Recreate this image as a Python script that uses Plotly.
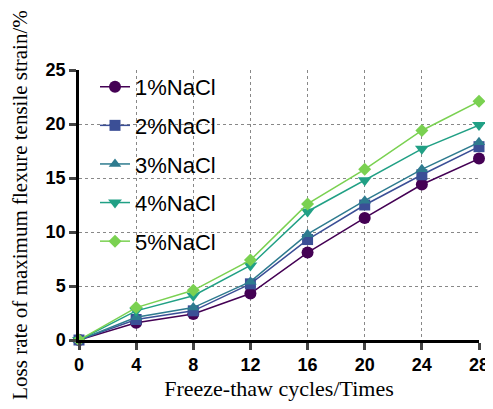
import plotly.graph_objects as go

cycles = [0, 4, 8, 12, 16, 20, 24, 28]
nacl1 = [0, 1.6, 2.4, 4.3, 8.1, 11.3, 14.4, 16.8]
nacl2 = [0, 1.9, 2.7, 5.2, 9.3, 12.5, 15.3, 17.9]
nacl3 = [0, 2.1, 3.0, 5.4, 9.8, 12.9, 15.8, 18.3]
nacl4 = [0, 2.7, 4.1, 6.9, 11.9, 14.8, 17.7, 19.9]
nacl5 = [0, 3.0, 4.6, 7.4, 12.6, 15.8, 19.4, 22.1]
names = ["1%NaCl", "2%NaCl", "3%NaCl", "4%NaCl", "5%NaCl"]
series = [nacl1, nacl2, nacl3, nacl4, nacl5]
colors = ["#440154", "#3b4f96", "#2e7b8f", "#21a085", "#7ad151"]
symbols = ["circle", "square", "triangle-up", "triangle-down", "diamond"]
sizes = [12, 11, 11, 12, 10]

fig = go.Figure()
for i, (n, s) in enumerate(zip(names, series)):
    fig.add_trace(go.Scatter(
        x=cycles, y=s, name=n, mode="lines+markers",
        line=dict(color=colors[i], width=1.5),
        marker=dict(symbol=symbols[i], size=sizes[i], color=colors[i]),
        cliponaxis=False, legendgroup=n,
    ))

# page body has an 8px margin, so the figure is sized/offset to compensate
fig.update_layout(
    width=485, height=393,
    margin=dict(l=71, r=14, t=62, b=61),
    paper_bgcolor="white", plot_bgcolor="white",
    showlegend=True,
    legend=dict(x=0.04, y=1.015, xanchor="left", yanchor="top",
                font=dict(family="Liberation Sans, Arial", size=22, color="black"),
                bgcolor="rgba(0,0,0,0)", tracegroupgap=7),
    font=dict(family="Liberation Sans, Arial", color="black"),
)
fig.update_xaxes(
    range=[0, 28], tickvals=cycles, ticks="outside", ticklen=7, tickwidth=2.5,
    showline=True, linecolor="black", linewidth=2.5,
    showgrid=True, gridcolor="#888", griddash="dot", gridwidth=1,
    tickfont=dict(family="Liberation Sans, Arial", size=18, weight="bold"),
    ticklabeloverflow="allow",
    title=dict(text="Freeze-thaw cycles/Times",
               font=dict(family="Liberation Serif, Times New Roman", size=22), standoff=11),
    zeroline=False, automargin=False,
)
fig.update_yaxes(
    range=[0, 25], tickvals=[0, 5, 10, 15, 20, 25], ticks="outside", ticklen=7, tickwidth=2.5,
    showline=True, linecolor="black", linewidth=2.5,
    showgrid=True, gridcolor="#888", griddash="dot", gridwidth=1,
    tickfont=dict(family="Liberation Sans, Arial", size=18, weight="bold"),
    ticklabeloverflow="allow",
    title=dict(text="Loss rate of maximum flexure tensile strain/%",
               font=dict(family="Liberation Serif, Times New Roman", size=21), standoff=16),
    zeroline=False, automargin=False,
)
fig.write_html("out.html")
